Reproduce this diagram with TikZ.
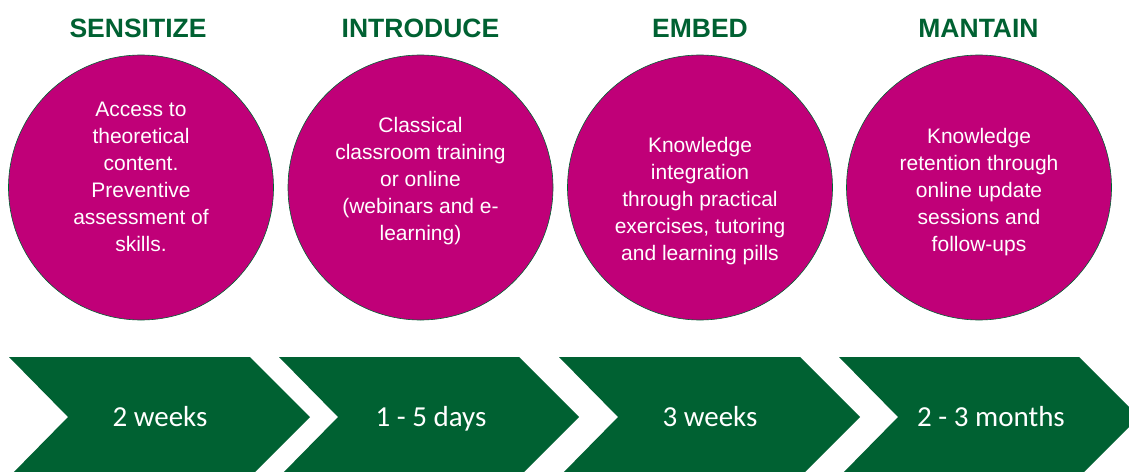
\documentclass[tikz,border=0pt]{standalone}
\usepackage{fontspec}
\setmainfont{Liberation Sans}
\newfontfamily\chevfont{Carlito}
\definecolor{darkgreen}{RGB}{0,97,50}
\definecolor{berry}{RGB}{192,0,120}

\begin{document}
\begin{tikzpicture}[x=1pt,y=-1pt,
  phase/.style={circle,fill=berry,draw=darkgreen,line width=0.6pt,minimum size=265pt,inner sep=0pt},
  title/.style={text=darkgreen,anchor=base,font=\fontsize{26.5}{30}\selectfont\bfseries},
  blurb/.style={text=white,align=center,anchor=north,inner sep=0pt,font=\fontsize{21}{27}\selectfont},
  span/.style={text=white,anchor=base,font=\chevfont\fontsize{29}{32}\selectfont},
  chev/.style={fill=darkgreen,draw=none}]
\useasboundingbox (0,0) rectangle (1129,471);

\node[title] (sensitize) at (138,37) {SENSITIZE};
\node[title] (introduce) at (420.5,37) {INTRODUCE};
\node[title] (embed) at (700,37) {EMBED};
\node[title] (mantain) at (978.5,37) {MANTAIN};

\node[phase] (c1) at (141,187.5) {};
\node[phase] (c2) at (420.5,187.5) {};
\node[phase] (c3) at (700,187.5) {};
\node[phase] (c4) at (979,187.5) {};

\node[blurb] (b1) at (141,102) {Access to\\theoretical\\content.\\Preventive\\assessment of\\skills.};
\node[blurb] (b2) at (420.5,117) {Classical\\classroom training\\or online\\(webinars and e-\\learning)};
\node[blurb] (b3) at (700,137) {Knowledge\\integration\\through practical\\exercises, tutoring\\and learning pills};
\node[blurb] (b4) at (979,128) {Knowledge\\retention through\\online update\\sessions and\\follow-ups};

\draw[chev] (9,357) -- (250,357) -- (310,417) -- (250,477) -- (9,477) -- (68,417) -- cycle;
\draw[chev] (279,357) -- (519,357) -- (579,417) -- (519,477) -- (279,477) -- (338,417) -- cycle;
\draw[chev] (559,357) -- (800,357) -- (860,417) -- (800,477) -- (559,477) -- (618,417) -- cycle;
\draw[chev] (839,357) -- (1079,357) -- (1139,417) -- (1079,477) -- (839,477) -- (898,417) -- cycle;

\node[span] (d1) at (160,426) {2 weeks};
\node[span] (d2) at (431,426) {1 - 5 days};
\node[span] (d3) at (710,426) {3 weeks};
\node[span] (d4) at (991,426) {2 - 3 months};
\end{tikzpicture}
\end{document}
